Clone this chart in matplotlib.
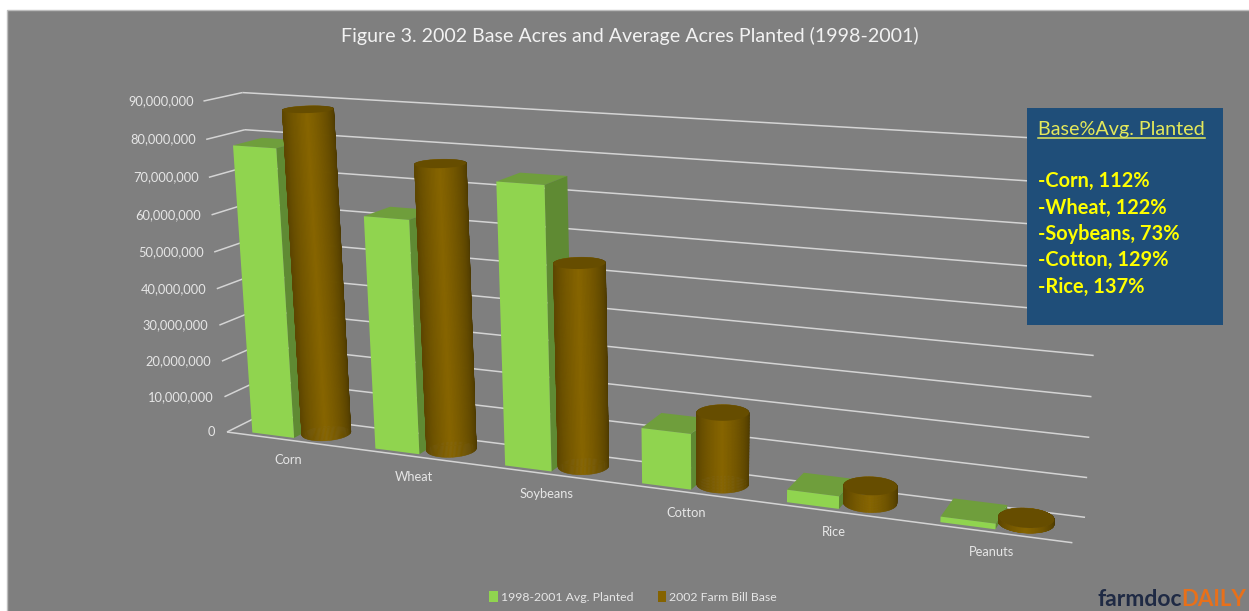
import numpy as np
import matplotlib
matplotlib.use("Agg")
import matplotlib.pyplot as plt
from matplotlib.patches import Rectangle, Patch
from matplotlib.lines import Line2D
from mpl_toolkits.mplot3d.art3d import Poly3DCollection, Line3DCollection

plt.rcParams['font.family'] = ['Lato', 'DejaVu Sans']

# Data, acres.
categories = ["Corn", "Wheat", "Soybeans", "Cotton", "Rice", "Peanuts"]
avg_planted = [78500000, 62500000, 74000000, 14500000, 3200000, 1400000]
farm_bill_base = [88000000, 76200000, 53500000, 18700000, 4400000, 1300000]
y_ticks = [0, 10000000, 20000000, 30000000, 40000000, 50000000, 60000000, 70000000, 80000000, 90000000]
series_names = ["1998-2001 Avg. Planted", "2002 Farm Bill Base"]
box_title = "Base%Avg. Planted"
box_lines = ["-Corn, 112%", "-Wheat, 122%", "-Soybeans, 73%", "-Cotton, 129%", "-Rice, 137%"]

W, H = 1249, 611
UNIT = 1e7

# Camera fit: (category, depth, value/UNIT) -> pixel.
calib = [
  (0, 0, 0, 227, 433), (6, 0, 0, 1075, 542), (0, 1, 0, 265, 414), (6, 1, 0, 1085, 517),
  (0, 1, 9, 241, 91), (6, 1, 9, 1105, 144), (0, 0, 9, 205, 101),
  (1, 0, 0, 348.5, 448.6), (2, 0, 0, 478, 465.3), (3, 0, 0, 613, 482.6), (4, 0, 0, 758, 501.2), (5, 0, 0, 909, 520.6),
]
A = []
for c, d, v, px, py in calib:
  A.append([c, d, v, 1, 0, 0, 0, 0, -px*c, -px*d, -px*v, -px])
  A.append([0, 0, 0, 0, c, d, v, 1, -py*c, -py*d, -py*v, -py])
P = np.linalg.svd(np.array(A, dtype=float))[2][-1].reshape(3, 4)
P = P/P[2, 3]

def project(c, d, v):
  h = P @ np.array([c, d, v, np.ones_like(c)])
  return h[0]/h[2], h[1]/h[2]

fig = plt.figure(figsize=(W/100, H/100), dpi=100, facecolor="white")
ax = fig.add_axes([0, 0, 1, 1], projection="3d", computed_zorder=False)
ax.set_axis_off()
ax.patch.set_alpha(0)
ax.set_zorder(1)
ax.set_xticks([])
ax.set_yticks([])
ax.set_zticks([])
ax.apply_aspect = lambda position=None: None

def get_proj():
  T = ax.transData.get_affine().get_matrix()
  flip = np.array([[1, 0, 0], [0, -1, H], [0, 0, 1.0]])
  V = np.linalg.inv(T) @ flip @ P
  return np.array([V[0], V[1], [0, 1, 0, 0], V[2]])
ax.get_proj = get_proj

def fx(px): return px/W
def fy(py): return 1 - py/H

fig.add_artist(Rectangle((fx(7), -0.01), 1.01, fy(10) + 0.01, transform=fig.transFigure, fc="#7F7F7F", ec="#BDBDBD", lw=1, zorder=0))

# Grid.
grid_colour = "#D4D4D4"
text_colour = "#E6E6E6"
segments = [[(0, 0, 0), (6, 0, 0)]]
for tick in y_ticks:
  v = tick/UNIT
  segments.append([(0, 0, v), (0, 1, v)])
  segments.append([(0, 1, v), (6, 1, v)])
  px, py = project(0.0, 0.0, v)
  fig.text(fx(px - 11.5 + 0.2*v), fy(py), f"{tick:,}", ha="right", va="center", color=text_colour, fontsize=9.3, zorder=6)
ax.add_collection3d(Line3DCollection(segments, colors=grid_colour, linewidths=1.1, zorder=1))

# Bars.
hidden = (0, 0, 0, 0)
box_colours = [hidden, "#6F9E3C", "#90D44F", hidden, hidden, "#5F8A33"]
dark = np.array(matplotlib.colors.to_rgb("#4A3800"))
light = np.array(matplotlib.colors.to_rgb("#876500"))
theta = np.linspace(0, 2*np.pi, 121)
no_rows = 24

for i in range(len(categories)):
  ax.bar3d(i + 0.175, 0.12, 0, 0.345, 0.76, avg_planted[i]/UNIT, color=box_colours, shade=False, zorder=2 + 2*i, linewidth=0)

  h = farm_bill_base[i]/UNIT
  xc = i + 0.675 + 0.17*np.cos(theta)
  yc = 0.5 + 0.38*np.sin(theta)
  heights = np.linspace(0, h, no_rows + 1)
  X = np.tile(xc, (no_rows + 1, 1))
  Y = np.tile(yc, (no_rows + 1, 1))
  Z = np.tile(heights[:, np.newaxis], (1, len(theta)))
  # Shade across the outline the cylinder has on screen, row by row.
  fc = np.zeros((no_rows + 1, len(theta), 3))
  for j in range(no_rows + 1):
    sx = project(xc, yc, Z[j])[0]
    t = (sx - sx.min())/(sx.max() - sx.min())
    ramp = np.clip(1 - np.abs(t - 0.47)/0.53, 0, 1)**0.55
    fc[j] = dark + (light - dark)*ramp[:, np.newaxis]
  ax.plot_surface(X, Y, Z, facecolors=fc, shade=False, rstride=1, cstride=1, linewidth=0.3, zorder=3 + 2*i)
  top = Poly3DCollection([list(zip(xc, yc, np.full_like(theta, h)))], facecolor="#664D00", edgecolor="none", zorder=3.5 + 2*i)
  ax.add_collection3d(top)

  px, py = project(i + 0.5, 0.0, 0.0)
  fig.text(fx(px + 1), fy(py + 20.5), categories[i], ha="center", va="center", color=text_colour, fontsize=9.3, zorder=6)

ax.set_xlim(0, 6)
ax.set_ylim(0, 1)
ax.set_zlim(0, 9)
for art in ax.get_children():
  art.set_clip_on(False)

fig.text(fx(630), fy(35.5), "Figure 3. 2002 Base Acres and Average Acres Planted (1998-2001)", ha="center", va="center", color="#F2F2F2", fontsize=14.1, zorder=6)

# Text box.
fig.add_artist(Rectangle((fx(1027), fy(325)), 196/W, 217/H, transform=fig.transFigure, fc="#1F4E79", ec="none", zorder=5))
fig.text(fx(1038), fy(129.5), box_title, ha="left", va="center", color="#E4E85A", fontsize=14.2, zorder=6)
fig.add_artist(Line2D([fx(1038), fx(1205)], [fy(137.5), fy(137.5)], transform=fig.transFigure, color="#E4E85A", lw=1.1, zorder=6))
for i, line in enumerate(box_lines):
  fig.text(fx(1038), fy(181.2 + 26.4*i), line, ha="left", va="center", color="#FFFF00", fontsize=14.4, fontweight="bold", zorder=6)

# Legend.
handles = [Patch(fc="#90D44F", ec="none"), Patch(fc="#856300", ec="none")]
leg = fig.legend(handles, series_names, ncol=2, loc="center", bbox_to_anchor=(fx(633), fy(597)), frameon=False,
                 fontsize=8.8, labelcolor=text_colour, handlelength=0.7, handleheight=0.9, handletextpad=0.25, columnspacing=2.0)
leg.set_zorder(6)

# Logo.
fig.text(fx(1098), fy(610.5), "farmdoc", ha="left", va="bottom", color="#1F2A44", fontsize=16.5, fontweight="bold", zorder=6)
fig.text(fx(1181), fy(610.5), "DAILY", ha="left", va="bottom", color="#E8701A", fontsize=16, fontweight="bold", zorder=6)

fig.savefig("out.png", dpi=100)
